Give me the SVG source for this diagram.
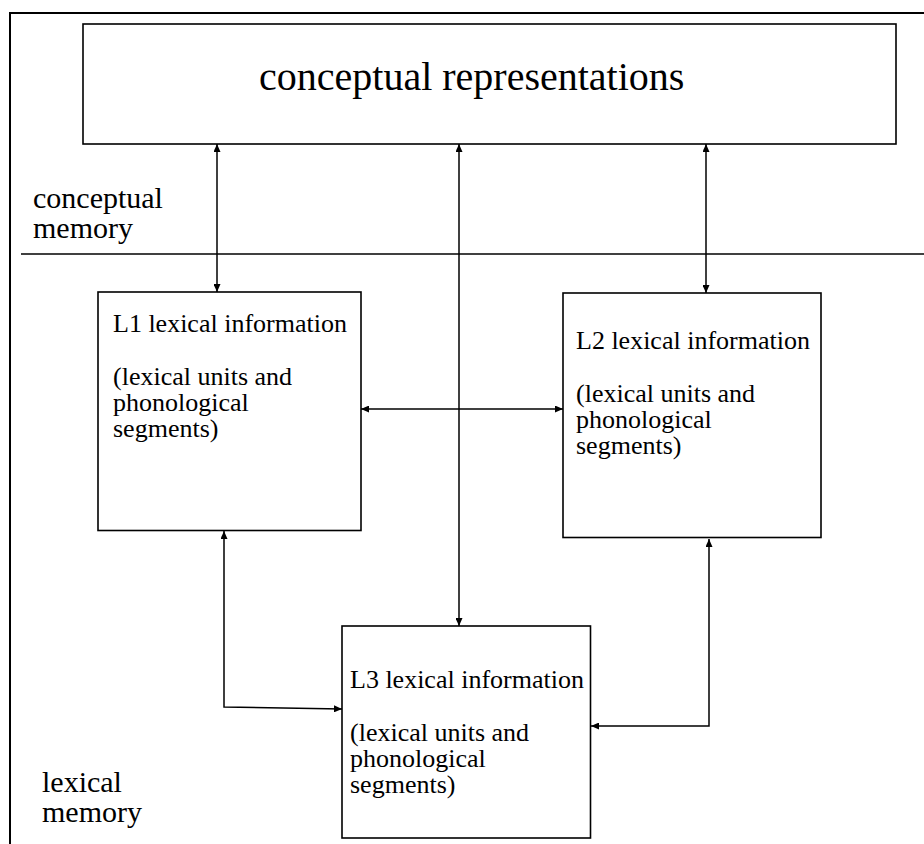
<svg xmlns="http://www.w3.org/2000/svg" width="924" height="844" viewBox="0 0 924 844">
  <style>
    .box { fill: #ffffff; stroke: #000000; stroke-width: 1.6; }
    .frame { fill: none; stroke: #000000; stroke-width: 2; }
    .rule { fill: none; stroke: #000000; stroke-width: 1.5; }
    .link { fill: none; stroke: #000000; stroke-width: 1.5; marker-start: url(#head); marker-end: url(#head); }
    text { font-family: "Liberation Serif", "Times New Roman", serif; fill: #000000; }
    .title { font-size: 40px; }
    .label { font-size: 30px; }
    .body { font-size: 26px; }
  </style>
  <defs>
    <marker id="head" viewBox="0 0 8 7" refX="8" refY="3.5" markerWidth="8" markerHeight="7" markerUnits="userSpaceOnUse" orient="auto-start-reverse">
      <path d="M0,0 L8,3.5 L0,7 z" fill="#000000"/>
    </marker>
  </defs>

  <rect width="924" height="844" fill="#ffffff"/>

  <!-- outer frame and the divider between the two memories -->
  <path class="frame" d="M10,844 V13 H924"/>
  <line class="rule" x1="21" y1="254" x2="924" y2="254"/>

  <!-- side labels -->
  <g id="label-conceptual-memory">
    <text class="label" x="33" y="208">conceptual</text>
    <text class="label" x="33" y="238">memory</text>
  </g>
  <g id="label-lexical-memory">
    <text class="label" x="42" y="792">lexical</text>
    <text class="label" x="42" y="822">memory</text>
  </g>

  <!-- nodes -->
  <g id="conceptual-representations">
    <rect class="box" x="83" y="24" width="813" height="120"/>
    <text class="title" x="259" y="90">conceptual representations</text>
  </g>

  <g id="l1-lexical">
    <rect class="box" x="98" y="292" width="263" height="238.5"/>
    <text class="body" x="113" y="332">L1 lexical information</text>
    <text class="body" x="113" y="385">(lexical units and</text>
    <text class="body" x="113" y="411">phonological</text>
    <text class="body" x="113" y="437">segments)</text>
  </g>

  <g id="l2-lexical">
    <rect class="box" x="563" y="293" width="258" height="244.5"/>
    <text class="body" x="576" y="349">L2 lexical information</text>
    <text class="body" x="576" y="402">(lexical units and</text>
    <text class="body" x="576" y="428">phonological</text>
    <text class="body" x="576" y="454">segments)</text>
  </g>

  <g id="l3-lexical">
    <rect class="box" x="342" y="626" width="248.5" height="212"/>
    <text class="body" x="350" y="688">L3 lexical information</text>
    <text class="body" x="350" y="741">(lexical units and</text>
    <text class="body" x="350" y="767">phonological</text>
    <text class="body" x="350" y="793">segments)</text>
  </g>

  <!-- connectors, all two-way -->
  <g id="connectors">
    <path class="link" d="M217,144 V292"/>
    <path class="link" d="M459,144 V626"/>
    <path class="link" d="M706,144 V293"/>
    <path class="link" d="M361,409 H563"/>
    <path class="link" d="M224,531 V707 L342,709"/>
    <path class="link" d="M709,539 V726 H591"/>
  </g>
</svg>
